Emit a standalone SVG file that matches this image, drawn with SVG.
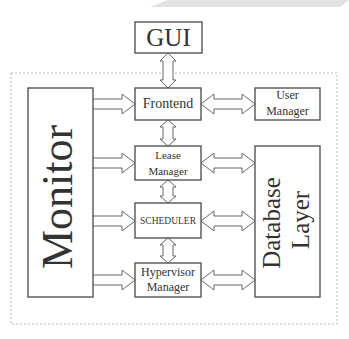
<svg xmlns="http://www.w3.org/2000/svg" width="349" height="339" viewBox="0 0 349 339">
<style>
.box{fill:#fff;stroke:#555;stroke-width:1.4}
.arr{fill:#fff;stroke:#666;stroke-width:1}
.t{font-family:"Liberation Serif","Times New Roman",serif;fill:#333;text-anchor:middle}
</style>
<rect width="349" height="339" fill="#fff"/>
<polygon points="150,7 168,0 349,0 340,7" fill="#e2e2e2"/>
<rect x="11" y="73" width="326" height="251" fill="none" stroke="#bbb" stroke-width="1" stroke-dasharray="2,2"/>
<g id="connectors">
<path class="arr" d="M168,53 L176,61 H173 V80 H176 L168,88 L160,80 H163 V61 H160 Z"/>
<path class="arr" d="M168,120 L176,127 H173 V139 H176 L168,146 L160,139 H163 V127 H160 Z"/>
<path class="arr" d="M168,180 L176,187 H173 V196 H176 L168,203 L160,196 H163 V187 H160 Z"/>
<path class="arr" d="M168,238 L176,245 H173 V256 H176 L168,263 L160,256 H163 V245 H160 Z"/>
<path class="arr" d="M93,99 H122 V94 L135,104 L122,114 V109 H93"/>
<path class="arr" d="M93,158 H122 V153 L135,163 L122,173 V168 H93"/>
<path class="arr" d="M93,216 H122 V211 L135,221 L122,231 V226 H93"/>
<path class="arr" d="M93,275 H122 V270 L135,280 L122,290 V285 H93"/>
<path class="arr" d="M201,104 L214,94 V99 H242 V94 L255,104 L242,114 V109 H214 V114 Z"/>
<path class="arr" d="M201,163 L214,153 V158 H242 V153 L255,163 L242,173 V168 H214 V173 Z"/>
<path class="arr" d="M201,221 L214,211 V216 H242 V211 L255,221 L242,231 V226 H214 V231 Z"/>
<path class="arr" d="M201,280 L214,270 V275 H242 V270 L255,280 L242,290 V285 H214 V290 Z"/>
</g>
<g id="gui"><rect class="box" x="135" y="22" width="67" height="31"/><text class="t" x="168.5" y="46" font-size="25">GUI</text></g>
<g id="monitor"><rect class="box" x="28" y="88" width="65" height="209"/><text class="t" transform="translate(72,197) rotate(-90)" font-size="44">Monitor</text></g>
<g id="frontend"><rect class="box" x="135" y="88" width="66" height="32"/><text class="t" x="168" y="108" font-size="14">Frontend</text></g>
<g id="usermanager"><rect class="box" x="255" y="88" width="65" height="32"/><text class="t" x="287.5" y="99" font-size="12">User</text><text class="t" x="287.5" y="115" font-size="12">Manager</text></g>
<g id="leasemanager"><rect class="box" x="135" y="146" width="66" height="34"/><text class="t" x="168" y="159" font-size="11">Lease</text><text class="t" x="168" y="175" font-size="11">Manager</text></g>
<g id="scheduler"><rect class="box" x="135" y="203" width="66" height="35"/><text class="t" x="168" y="224" font-size="9.5">SCHEDULER</text></g>
<g id="hypervisor"><rect class="box" x="135" y="263" width="66" height="34"/><text class="t" x="168" y="276" font-size="12">Hypervisor</text><text class="t" x="168" y="291" font-size="12">Manager</text></g>
<g id="database"><rect class="box" x="255" y="146" width="65" height="151"/><text class="t" transform="translate(280,223) rotate(-90)" font-size="25">Database</text><text class="t" transform="translate(309,220) rotate(-90)" font-size="25">Layer</text></g>
</svg>
